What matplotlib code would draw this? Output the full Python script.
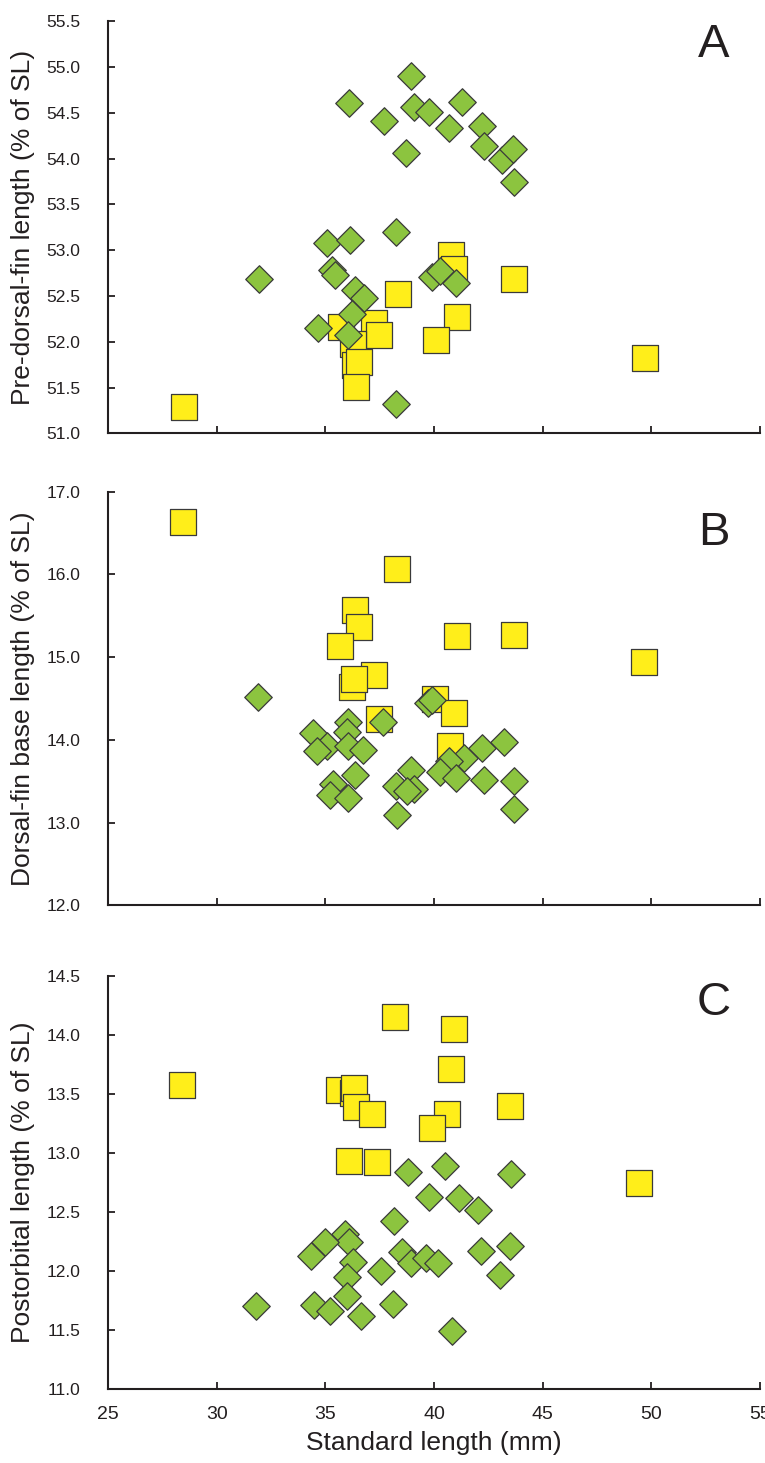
import matplotlib
matplotlib.use("Agg")
import matplotlib.pyplot as plt

plt.rcParams["font.family"] = ["Liberation Sans", "DejaVu Sans"]

# ---------------------------------------------------------------- data
# panel A: pre-dorsal-fin length (% of SL)
a_sq_x = [28.49, 40.78, 40.93, 43.68, 38.35, 41.08, 40.09, 35.73, 37.26, 37.49,
          36.27, 36.35, 36.55, 36.39, 49.71]
a_sq_y = [51.29, 52.95, 52.80, 52.69, 52.52, 52.27, 52.02, 52.16, 52.20, 52.07,
          51.98, 51.75, 51.78, 51.51, 51.82]
a_dm_x = [38.96, 36.10, 39.10, 39.75, 41.30, 37.69, 40.67, 42.20, 42.31, 38.73,
          43.12, 43.65, 43.68, 38.24, 35.07, 36.13, 35.30, 35.45, 31.94, 36.37,
          36.80, 39.89, 40.27, 41.02, 36.22, 34.66, 36.04, 38.27]
a_dm_y = [54.90, 54.61, 54.56, 54.51, 54.62, 54.41, 54.34, 54.36, 54.14, 54.06,
          53.99, 54.10, 53.75, 53.20, 53.08, 53.11, 52.78, 52.73, 52.68, 52.57,
          52.48, 52.71, 52.77, 52.64, 52.30, 52.15, 52.07, 51.32]

# panel B: dorsal-fin base length (% of SL)
b_sq_x = [28.44, 38.30, 36.35, 36.54, 41.08, 43.67, 35.69, 37.23, 36.21, 36.32,
          40.06, 40.92, 37.49, 40.74, 49.67]
b_sq_y = [16.63, 16.07, 15.57, 15.36, 15.26, 15.27, 15.13, 14.78, 14.64, 14.73,
          14.50, 14.32, 14.25, 13.92, 14.94]
b_dm_x = [31.89, 39.73, 39.93, 37.66, 36.06, 35.98, 34.45, 35.06, 34.60, 36.06,
          36.75, 42.20, 43.20, 41.36, 40.67, 40.28, 41.00, 42.30, 43.66, 38.94,
          38.25, 39.09, 38.75, 36.35, 35.37, 35.22, 36.06, 38.28, 43.69]
b_dm_y = [14.52, 14.45, 14.48, 14.21, 14.22, 14.10, 14.08, 13.92, 13.86, 13.92,
          13.88, 13.90, 13.97, 13.78, 13.74, 13.61, 13.54, 13.52, 13.50, 13.64,
          13.44, 13.41, 13.38, 13.57, 13.47, 13.33, 13.30, 13.09, 13.16]

# panel C: postorbital length (% of SL)
c_sq_x = [28.41, 38.21, 40.94, 40.80, 35.62, 36.25, 36.30, 36.42, 37.14, 40.61,
          43.51, 39.93, 36.11, 37.36, 49.45]
c_sq_y = [13.58, 14.15, 14.05, 13.71, 13.53, 13.51, 13.55, 13.39, 13.33, 13.33,
          13.40, 13.21, 12.93, 12.92, 12.75]
c_dm_x = [38.82, 40.52, 43.53, 39.79, 41.14, 42.04, 38.16, 35.91, 36.11, 34.99,
          34.35, 36.25, 38.55, 38.94, 39.62, 40.20, 37.57, 42.17, 43.50, 43.04,
          35.98, 31.82, 34.48, 35.98, 35.22, 36.65, 38.13, 40.85]
c_dm_y = [12.84, 12.89, 12.82, 12.63, 12.62, 12.52, 12.42, 12.31, 12.25, 12.25,
          12.13, 12.08, 12.16, 12.07, 12.11, 12.07, 12.00, 12.17, 12.21, 11.97,
          11.95, 11.70, 11.71, 11.79, 11.66, 11.62, 11.72, 11.49]

panels = [
    ("A", "Pre-dorsal-fin length (% of SL)", (51.0, 55.5), 0.5,
     a_sq_x, a_sq_y, a_dm_x, a_dm_y),
    ("B", "Dorsal-fin base length (% of SL)", (12.0, 17.0), 1.0,
     b_sq_x, b_sq_y, b_dm_x, b_dm_y),
    ("C", "Postorbital length (% of SL)", (11.0, 14.5), 0.5,
     c_sq_x, c_sq_y, c_dm_x, c_dm_y),
]

# axes boxes in figure pixels (left, top, right, bottom) on a 765x1463 canvas
W, H = 765, 1463
boxes = [(108, 21.3, 760, 433.3), (108, 491.7, 760, 905.3), (108, 976, 760, 1389)]
letter_y = [0.942, 0.900, 0.935]

YELLOW = "#FFEE1A"
GREEN = "#8CC43F"
EDGE = "#3a3a3a"
AXC = "#231f20"

fig = plt.figure(figsize=(W / 100, H / 100), dpi=100)
x_ticks = [25, 30, 35, 40, 45, 50, 55]

for i, (lab, ylab, ylim, step, sx, sy, dx, dy) in enumerate(panels):
    l, t, r, b = boxes[i]
    ax = fig.add_axes([l / W, 1 - b / H, (r - l) / W, (b - t) / H])
    # squares first, diamonds drawn over them
    ax.scatter(sx, sy, marker="s", s=19 ** 2, c=YELLOW, edgecolors=EDGE,
               linewidths=0.9, zorder=3, clip_on=False)
    ax.scatter(dx, dy, marker="D", s=14 ** 2, c=GREEN, edgecolors=EDGE,
               linewidths=0.9, zorder=4, clip_on=False)
    ax.set_xlim(25, 55)
    ax.set_ylim(*ylim)
    n = int(round((ylim[1] - ylim[0]) / step))
    yt = [ylim[0] + k * step for k in range(n + 1)]
    ax.set_yticks(yt)
    ax.set_yticklabels([f"{v:.1f}" for v in yt])
    ax.set_xticks(x_ticks)
    for side in ("top", "right"):
        ax.spines[side].set_visible(False)
    for side in ("left", "bottom"):
        ax.spines[side].set_linewidth(1.5)
        ax.spines[side].set_color(AXC)
    ax.tick_params(axis="both", direction="in", length=5, width=1.3, color=AXC,
                   labelcolor=AXC)
    ax.tick_params(axis="y", pad=20, labelsize=12.5)
    ax.tick_params(axis="x", pad=12, labelsize=14)
    if i < 2:
        ax.tick_params(axis="x", labelbottom=False)
    else:
        ax.set_xlabel("Standard length (mm)", fontsize=19, color=AXC)
        ax.xaxis.set_label_coords(0.5, -0.102)
    ax.set_ylabel(ylab, fontsize=19, color=AXC, va="center")
    ax.yaxis.set_label_coords(-0.131, 0.5)
    ax.text(0.929, letter_y[i], lab, transform=ax.transAxes, fontsize=34,
            ha="center", va="center", color=AXC)

fig.savefig("out.png", dpi=100)
